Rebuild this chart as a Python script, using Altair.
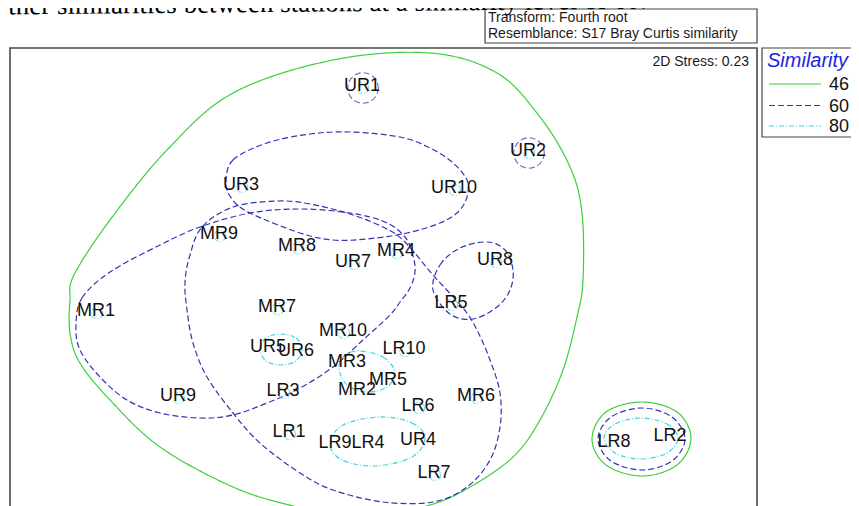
import altair as alt
import pandas as pd

# ---------------- data (ordination units) ----------------
stations = ["UR1", "UR2", "UR3", "UR10", "MR9", "MR8", "UR7", "MR4", "UR8", "LR5",
            "MR1", "MR7", "MR10", "UR5", "UR6", "LR10", "MR3", "MR5", "MR2", "UR9",
            "LR3", "LR6", "MR6", "LR1", "LR9", "LR4", "UR4", "LR7", "LR8", "LR2"]
mds_x = [363, 529, 242, 455, 220, 298, 354, 397, 496, 452,
         97, 278, 344, 269, 297, 405, 348, 389, 358, 179,
         284, 419, 477, 290, 336, 369, 419, 435, 615, 671]
mds_y = [88, 153, 187, 190, 236, 248, 264, 253, 262, 305,
         313, 309, 333, 349, 353, 351, 364, 382, 392, 398,
         393, 408, 398, 434, 445, 445, 442, 475, 444, 438]

# stations that fall in a multi-station group at 80% similarity
grouped_80 = ["UR5", "UR6", "MR3", "MR5", "MR2", "LR9", "LR4", "UR4", "LR8", "LR2"]
# stations that stand alone at 60% similarity
single_60 = ["UR1", "UR2"]

levels = ["46", "60", "80"]
level_colors = ["#3ccf3c", "#3434b4", "#3fd3df"]
level_dashes = [[1, 0], [6, 3], [5, 2, 1, 2]]

# similarity contours (outline points)
green_main = [(233, 93), (333, 60), (430, 53), (497, 73), (540, 117), (570, 167), (582, 213),
              (583, 280), (577, 317), (563, 370), (540, 420), (513, 457), (470, 487), (430, 505),
              (360, 520), (293, 506), (233, 487), (160, 447), (110, 400), (80, 363), (70, 333),
              (70, 300), (74, 275), (110, 220), (167, 150)]
green_lr = [(642, 402), (677, 412), (691, 438), (677, 465), (642, 476), (606, 465), (592, 439), (606, 412)]

blue_a = [(76, 325), (82, 298), (110, 272), (160, 245), (200, 227), (250, 213), (300, 209),
          (350, 213), (385, 222), (405, 237), (413, 256), (415, 272), (410, 288), (400, 302),
          (390, 315), (363, 340), (333, 367), (300, 388), (267, 403), (233, 415), (200, 418),
          (160, 413), (127, 400), (100, 377), (80, 350)]
blue_b = [(202, 227), (233, 207), (277, 201), (310, 204), (350, 214), (385, 228), (405, 242),
          (433, 275), (463, 308), (477, 330), (490, 360), (500, 393), (500, 427), (490, 460),
          (467, 487), (433, 502), (383, 502), (333, 490), (300, 473), (260, 443), (233, 413),
          (207, 377), (193, 343), (187, 310), (185, 282), (190, 255)]
blue_ur = [(226, 183), (233, 160), (267, 143), (310, 134), (350, 132), (400, 137), (430, 148),
           (452, 162), (467, 180), (467, 197), (458, 212), (440, 223), (407, 233), (367, 239),
           (333, 240), (300, 233), (250, 213), (232, 199)]
blue_ur8 = [(433, 290), (440, 265), (460, 248), (487, 242), (505, 250), (513, 270), (510, 290),
            (497, 307), (473, 319), (450, 314)]
blue_lr = [(642, 408), (672, 417), (685, 439), (672, 461), (642, 470), (611, 461), (598, 439), (611, 417)]

cyan_ur56 = [(281, 334), (296, 338), (302, 349), (296, 361), (281, 365), (266, 361), (260, 349), (266, 338)]
cyan_mr = [(360, 351), (383, 357), (395, 372), (387, 387), (367, 392), (347, 385), (339, 368), (345, 355)]
cyan_lr = [(380, 417), (412, 423), (425, 438), (412, 457), (375, 466), (342, 460), (330, 444), (343, 425)]
cyan_lr28 = [(641, 418), (667, 424), (678, 438), (667, 453), (641, 459), (615, 453), (604, 438), (615, 424)]

contours = {
    "46": [green_main, green_lr],
    "60": [blue_a, blue_b, blue_ur, blue_ur8, blue_lr],
    "80": [cyan_ur56, cyan_mr, cyan_lr, cyan_lr28],
}

caption = "rther similarities between stations at a similarity level of 60."
transform_lines = ["Transform: Fourth root", "Resemblance: S17 Bray Curtis similarity"]
stress_text = "2D Stress: 0.23"
legend_title = "Similarity"

# ---------------- tables ----------------
pts = pd.DataFrame({"station": stations, "x": mds_x, "y": mds_y})
pts["single80"] = ~pts["station"].isin(grouped_80)
pts["single60"] = pts["station"].isin(single_60)

rows = []
for lev, shapes in contours.items():
    for k, shape in enumerate(shapes):
        for i, (cx, cy) in enumerate(shape):
            rows.append({"level": lev, "cid": f"{lev}-{k}", "i": i, "x": cx, "y": cy})
cont = pd.DataFrame(rows)

W, H = 843, 498
xs = alt.Scale(domain=[8, 8 + W], nice=False, zero=False)
ys = alt.Scale(domain=[8, 8 + H], nice=False, zero=False, reverse=True)
X = alt.X("x:Q", scale=xs, axis=None)
Y = alt.Y("y:Q", scale=ys, axis=None)
col = alt.Color("level:N", scale=alt.Scale(domain=levels, range=level_colors), legend=None)
dash = alt.StrokeDash("level:N", scale=alt.Scale(domain=levels, range=level_dashes), legend=None)

one = alt.Data(values=[{}])
SANS = "Liberation Sans"

def box(x1, x2, y1, y2, color="#505050", sw=1.5):
    return alt.Chart(one).mark_rect(fillOpacity=0, stroke=color, strokeWidth=sw).encode(
        x=alt.value(x1), x2=alt.value(x2), y=alt.value(y1), y2=alt.value(y2))

frame = box(2, 749, 40, 600, "#4a4a4a", 1.6)
tbox = box(477, 749, 1, 35, "#444444", 1.2)
lbox = box(754, 900, 40, 129, "#444444", 1.2)

lines = alt.Chart(cont).mark_line(interpolate="cardinal-closed", strokeWidth=1.2, clip=True).encode(
    x=X, y=Y, detail="cid:N", order="i:Q", color=col, strokeDash=dash)

small80 = alt.Chart(pts).transform_filter("datum.single80").mark_point(
    shape="circle", filled=False, size=130, color=level_colors[2], strokeWidth=1.1,
    strokeDash=level_dashes[2]).encode(x=X, y=Y)

small60 = alt.Chart(pts).transform_filter("datum.single60").mark_point(
    shape="circle", filled=False, size=930, color=level_colors[1], strokeWidth=1.2,
    strokeDash=level_dashes[1]).encode(x=X, y=Y)

labels = alt.Chart(pts).mark_text(font=SANS, fontSize=18, color="#111111", align="center",
                                  baseline="middle", dx=-1, dy=-2).encode(x=X, y=Y, text="station:N")

def txt(s, x, y, size, align="left", baseline="alphabetic", color="#1a1a1a", font=SANS,
        style="normal", angle=0):
    return alt.Chart(one).mark_text(text=s, fontSize=size, align=align, baseline=baseline,
                                    color=color, font=font, fontStyle=style, angle=angle).encode(
        x=alt.value(x), y=alt.value(y))

cap = txt(caption, 639, 0.5, 27, align="right", color="#000000", font="Liberation Serif", angle=359.47)
t1 = txt(transform_lines[0], 480, 14, 14)
t2 = txt(transform_lines[1], 480, 30, 14)
stress = txt(stress_text, 741, 58, 14, align="right")
ltitle = txt(legend_title, 759, 59, 20, color="#1f1fe6", style="italic")

leg_layers = []
leg_y = [76, 97.5, 118]
for lev, c, d, yy in zip(levels, level_colors, level_dashes, leg_y):
    leg_layers.append(alt.Chart(one).mark_rule(color=c, strokeWidth=1.2, strokeDash=d).encode(
        x=alt.value(761), x2=alt.value(813), y=alt.value(yy)))
    leg_layers.append(txt(lev, 821, yy + 1, 18, baseline="middle", color="#111111"))

chart = alt.layer(frame, tbox, lbox, lines, small80, small60, labels,
                  cap, t1, t2, stress, ltitle, *leg_layers).properties(
    width=W, height=H, padding=0, autosize=alt.AutoSizeParams(type="none"),
    background="white").configure_view(stroke=None)

chart.save("out.html", embed_options={"renderer": "svg", "actions": False})
